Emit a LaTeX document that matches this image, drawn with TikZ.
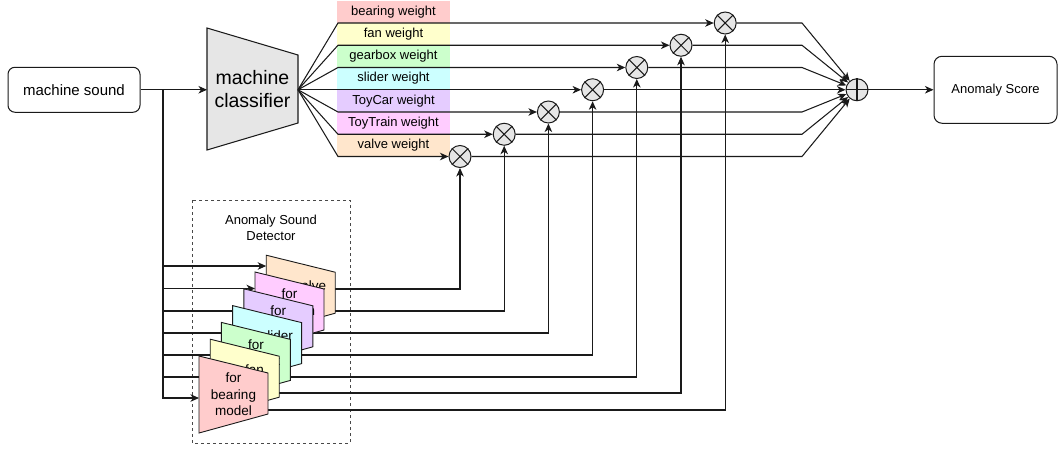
\documentclass[tikz,border=0pt]{standalone}
\usepackage{fontspec}
\setmainfont{Liberation Sans}
\usetikzlibrary{arrows.meta,calc}
\definecolor{cbearing}{HTML}{FFCCCC}
\definecolor{cfan}{HTML}{FFFFCC}
\definecolor{cgear}{HTML}{CCFFCC}
\definecolor{cslider}{HTML}{CCFFFF}
\definecolor{ctoycar}{HTML}{E5CCFF}
\definecolor{ctoytrain}{HTML}{FFCCFF}
\definecolor{cvalve}{HTML}{FFE6CC}
\definecolor{cgrayfill}{HTML}{E6E6E6}
\definecolor{cstroke}{HTML}{1A1A1A}
\begin{document}
\begin{tikzpicture}[x=1pt,y=-1pt,
  conn/.style={draw=cstroke, line width=1.05pt},
  arr/.style={conn, -{Stealth[length=8.5pt,width=7.5pt,inset=2.5pt]}},
  boxr/.style={draw=cstroke, line width=1pt, rounded corners=7pt, fill=white, inner sep=0pt},
  mulnode/.style={circle, draw=cstroke, line width=1pt, fill=cgrayfill, minimum size=22pt, inner sep=0pt},
  wbox/.style={minimum width=113pt, minimum height=22.25pt, inner sep=0pt, font=\fontsize{13}{15}\selectfont},
  cardshape/.style={draw=cstroke, line width=0.9pt},
  cardtext/.style={align=center, font=\fontsize{13.5}{16.5}\selectfont, inner sep=0pt}
]
\useasboundingbox (0,0) rectangle (1060,448);
\fill[white] (0,0) rectangle (1060,448);

% input box and classifier
\node[boxr, minimum width=132pt, minimum height=45pt, font=\fontsize{15}{18}\selectfont] (ms) at (74,89.75) {machine sound};
\draw[conn, fill=cgrayfill] (207,28) -- (298,55) -- (298,123) -- (207,150) -- cycle;
\node[align=center, inner sep=0pt, font=\fontsize{19.5}{23}\selectfont] (cltext) at (252.5,89.5) {machine\\classifier};
\coordinate (clin) at (207,89.75);
\coordinate (clout) at (298,89.75);
\coordinate (br) at (163,89.75);
\draw[arr] (ms) -- (clin);

% weight boxes
\foreach \n/\c [count=\i from 0] in {bearing/cbearing, fan/cfan, gearbox/cgear, slider/cslider, ToyCar/ctoycar, ToyTrain/ctoytrain, valve/cvalve} {
  \node[wbox, fill=\c] (w\i) at (393.5,{11.875+22.25*\i}) {\n\ weight};
}

% multipliers
\foreach \i in {0,...,6} {
  \node[mulnode] (m\i) at ({725.2-44.2*\i},{23+22.25*\i}) {};
  \draw[conn] (m\i.45) -- (m\i.225) (m\i.135) -- (m\i.315);
}

% sum node and output
\node[mulnode] (sum) at (857,89.75) {};
\draw[conn] (sum.north) -- (sum.south) (sum.east) -- (sum.west);
\node[boxr, rounded corners=8pt, minimum width=123pt, minimum height=67pt, font=\fontsize{13}{15}\selectfont] (score) at (995.5,89.75) {Anomaly Score};
\draw[arr] (sum) -- (score);

% classifier -> weights -> multipliers -> sum
\foreach \i in {0,...,6} {
  \coordinate (wl\i) at (338,{23+22.25*\i});
  \coordinate (sb\i) at (802,{23+22.25*\i});
  \draw[arr] (clout) -- (wl\i) -- (m\i);
  \draw[arr] (m\i) -- (sb\i) -- (sum);
}

% detector frame
\draw[draw=cstroke!80, line width=0.9pt, dash pattern=on 3pt off 3pt] (192,200) rectangle (350,443);
\node[align=center, inner sep=0pt, font=\fontsize{13}{16.5}\selectfont] (dettitle) at (271,228) {Anomaly Sound\\Detector};

% connectors of detector cards
\foreach \k/\yin/\yout in {0/398/410, 1/377/393, 2/355/377, 3/333/355, 4/311/333, 5/288.5/311, 6/266/289} {
  \pgfmathsetmacro\L{199+11.2*\k}
  \pgfmathsetmacro\R{268+11.2*\k}
  \coordinate (ci\k) at (\L,\yin);
  \coordinate (co\k) at (\R,\yout);
  \draw[arr] (br) |- (ci\k);
  \draw[arr] (co\k) -| (m\k);
}

% detector cards, back to front
\foreach \k/\c/\t in {6/cvalve/{for valve\\model}, 5/ctoytrain/{for\\ToyTrain\\model}, 4/ctoycar/{for\\ToyCar\\model}, 3/cslider/{for slider\\model}, 2/cgear/{for\\gearbox\\model}, 1/cfan/{for fan\\model}, 0/cbearing/{for\\bearing\\model}} {
  \pgfmathsetmacro\L{199+11.2*\k}
  \pgfmathsetmacro\T{356-16.8*\k}
  \draw[cardshape, fill=\c] (\L,\T) -- (\L+69,\T+17) -- (\L+69,\T+58) -- (\L,\T+77) -- cycle;
  \node[cardtext] (ct\k) at (\L+34.5,\T+38.5) {\t};
}
\end{tikzpicture}
\end{document}
